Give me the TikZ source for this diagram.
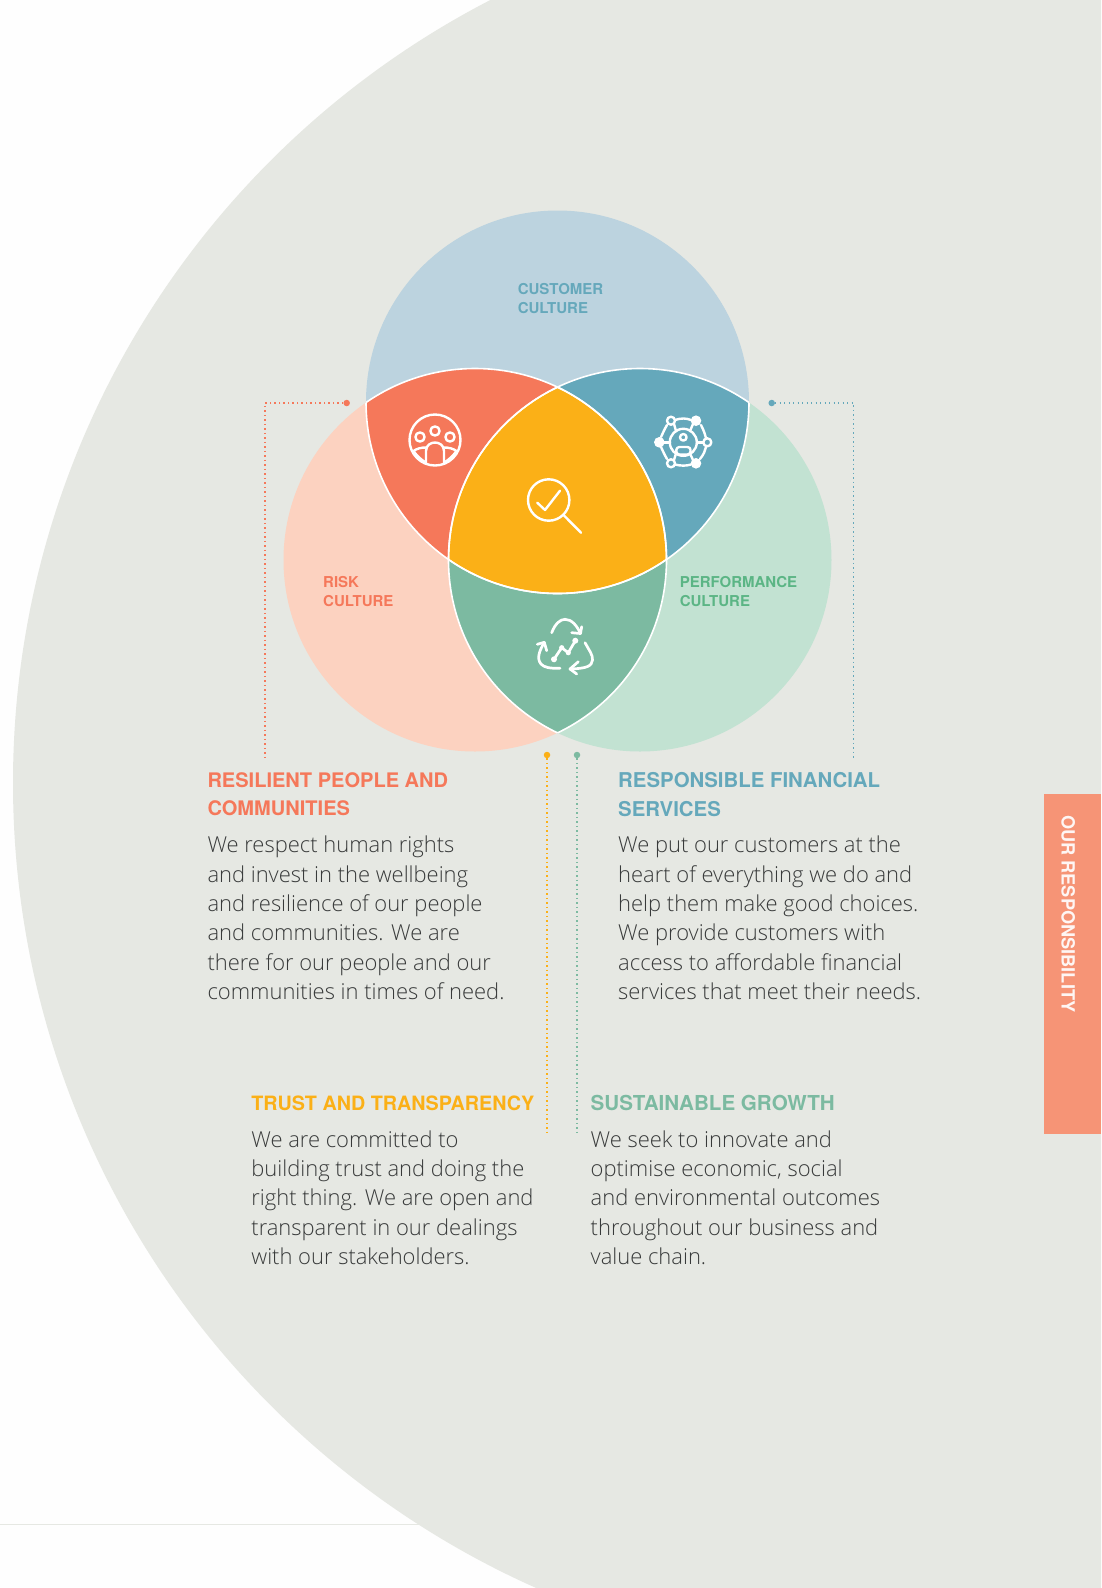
\documentclass[tikz,border=0pt]{standalone}
\usepackage{fontspec}
\setmainfont{Liberation Sans}
\newfontfamily\headfont{TeX Gyre Heros}[BoldFont=* Bold]
\newfontfamily\lightfont{Open Sans Light}
\definecolor{bgcol}{HTML}{E6E8E3}
\definecolor{pagecol}{HTML}{FEFEFE}
\definecolor{topcol}{HTML}{BCD3DF}
\definecolor{leftcol}{HTML}{FCD2C0}
\definecolor{rightcol}{HTML}{C2E2D2}
\definecolor{redc}{HTML}{F5785A}
\definecolor{bluec}{HTML}{65A8BB}
\definecolor{yellowc}{HTML}{FBB017}
\definecolor{greenc}{HTML}{7CBAA1}
\definecolor{perfc}{HTML}{5BB585}
\definecolor{tabc}{HTML}{F69476}
\definecolor{bodyc}{HTML}{383A3A}
\tikzset{
  x=1pt,y=-1pt,
  headtext/.style={anchor=north west,inner sep=0pt,align=left,font=\fontsize{#1}{28.2}\selectfont\headfont\bfseries},
  bodytext/.style={anchor=north west,inner sep=0pt,align=left,text=bodyc,font=\fontsize{21.95}{29.3}\selectfont\lightfont},
  circtext/.style={anchor=north west,inner sep=0pt,align=left,font=\fontsize{15}{18.8}\selectfont\headfont\bfseries},
  leader/.style={line width=1.2pt,dash pattern=on 1.3pt off 3.2pt},
  dotnode/.style={circle,inner sep=0pt,minimum size=6.5pt,fill=#1},
  icon/.style={draw=white,line width=2.4pt,line cap=round,line join=round},
  seam/.style={draw=white,line width=1.6pt},
}
\begin{document}
\begin{tikzpicture}
\useasboundingbox (0,0) rectangle (1101,1588);
\fill[pagecol] (0,0) rectangle (1101,1588);
\draw[bgcol,line width=1pt] (0,1524.5) -- (430,1524.5);
\begin{scope}
  \clip (0,0) rectangle (1101,1588);
  \fill[bgcol] (893.5,783) circle (880.5);
\end{scope}
% Venn
\coordinate (cT) at (557.5,402);
\coordinate (cL) at (475,560);
\coordinate (cR) at (640,560);
\def\rad{191.5}
\fill[topcol] (cT) circle (\rad);
\fill[leftcol] (cL) circle (\rad);
\fill[rightcol] (cR) circle (\rad);
\begin{scope}\clip (cT) circle (\rad); \fill[redc] (cL) circle (\rad); \fill[bluec] (cR) circle (\rad);\end{scope}
\begin{scope}\clip (cL) circle (\rad); \fill[greenc] (cR) circle (\rad);\end{scope}
\begin{scope}\clip (cT) circle (\rad); \clip (cL) circle (\rad); \fill[yellowc] (cR) circle (\rad);\end{scope}
\begin{scope}\clip (cL) circle (\rad); \draw[seam] (cT) circle (\rad); \draw[seam] (cR) circle (\rad);\end{scope}
\begin{scope}\clip (cR) circle (\rad); \draw[seam] (cT) circle (\rad); \draw[seam] (cL) circle (\rad);\end{scope}
\begin{scope}\clip (cT) circle (\rad); \draw[seam] (cL) circle (\rad); \draw[seam] (cR) circle (\rad);\end{scope}
% circle labels
\node[circtext,text=bluec] (custlab) at (517.6,283.5) {CUSTOMER\\CULTURE};
\node[circtext,text=redc] (risklab) at (323,576) {RISK\\CULTURE};
\node[circtext,text=perfc] (perflab) at (679.6,576) {PERFORMANCE\\CULTURE};
% people icon
\draw[icon] (435,440) circle (25.5);
\draw[icon] (435,431) circle (4.6);
\draw[icon] (420,437) circle (4.6);
\draw[icon] (450,437) circle (4.6);
\draw[icon] (426,463) -- (426,451) .. controls (426,445) and (431,442.5) .. (435,442.5) .. controls (439,442.5) and (444,445) .. (444,451) -- (444,463);
\draw[icon] (413.5,451) .. controls (417,448.5) and (421,447.5) .. (426,447.5);
\draw[icon] (456.5,451) .. controls (453,448.5) and (449,447.5) .. (444,447.5);
\draw[icon] (413.5,451) .. controls (417,456) and (421,459.5) .. (425,462);
\draw[icon] (456.5,451) .. controls (453,456) and (449,459.5) .. (445,462);
% lens icon
\draw[icon] (548.7,500) circle (20.7);
\draw[icon] (563.5,515) -- (581,532.7);
\draw[icon] (537.3,502.7) -- (545,510) -- (560,490.7);
% network icon
\begin{scope}[icon]
\draw (675,420) .. controls (681,418) and (686,418) .. (691,420);
\draw (701,425) .. controls (704,431) and (705,434) .. (706,438);
\draw (706,447) .. controls (705,451) and (704,454) .. (700,459);
\draw (691,464.5) .. controls (686,466) and (681,466) .. (675,464.5);
\draw (667,459) .. controls (664,454) and (663,451) .. (661,447);
\draw (661,437) .. controls (663,433) and (664,430) .. (667,425);
\draw (683.3,442.3) circle (13.5);
\draw (683.3,437.3) circle (3.3);
\draw[rounded corners=3pt] (676.3,447) rectangle (690.5,454.5);
\draw (674,424) -- (676,431);
\draw (693,424) -- (690,431);
\draw (663,442.3) -- (670,442.3);
\draw (703,442.3) -- (697,442.3);
\draw (674,460) -- (676,453.5);
\draw (693,460) -- (690,453.5);
\draw (671,420.7) circle (4);
\draw (707.3,442.3) circle (4);
\draw (671,463.3) circle (4);
\fill[white] (696,420.7) circle (5.3);
\fill[white] (696,463.3) circle (5.3);
\fill[white] (659.3,442.3) circle (5.3);
\end{scope}
% recycle icon
\begin{scope}[icon,line width=2.7pt]
\draw (551.7,632.7) .. controls (555,624) and (560,619.3) .. (565,619.3) .. controls (572,619.3) and (577,626) .. (580.5,633.5);
\draw (581.7,626.7) -- (580.5,633.5) -- (571.7,632.7);
\draw (585,642.7) .. controls (589,650) and (593,655) .. (592.5,660) .. controls (592,666) and (587,668.5) .. (570,669);
\draw (578.3,661.7) -- (570,669) -- (576.7,674);
\draw (560,668.3) .. controls (550,668.5) and (544,667.5) .. (541,664) .. controls (536,658) and (540,650) .. (544.3,642.3);
\draw (537.3,644.3) -- (544.3,642.3) -- (546.7,650.7);
\draw (554,659.3) -- (561.7,647.7) -- (568.3,652.7) -- (575.3,640.7);
\end{scope}
\fill[white] (554,659.3) circle (3) (561.7,647.7) circle (2.6) (568.3,652.7) circle (2.6) (575.3,640.7) circle (3);
% leaders
\node[dotnode=redc] (dotL) at (346.7,403) {};
\coordinate (cornL) at (265,403);
\coordinate (endL) at (265,758.5);
\draw[leader,redc] (dotL) -- (cornL) -- (endL);
\node[dotnode=bluec] (dotR) at (771.7,403) {};
\coordinate (cornR) at (853.7,403);
\coordinate (endR) at (853.7,758.5);
\draw[leader,bluec] (dotR) -- (cornR) -- (endR);
\node[dotnode=yellowc] (dotY) at (547,755) {};
\coordinate (endY) at (547,1134);
\draw[leader,yellowc] (dotY) -- (endY);
\node[dotnode=greenc] (dotG) at (577,755) {};
\coordinate (endG) at (577,1135);
\draw[leader,greenc] (dotG) -- (endG);
% text blocks
\node[headtext=20.05,text=redc] (resH) at (207.3,772.6) {RESILIENT PEOPLE AND\\COMMUNITIES};
\node[bodytext] (resB) at (207.3,836) {We respect human rights\\and invest in the wellbeing\\and resilience of our people\\and communities. We are\\there for our people and our\\communities in times of need.};
\node[headtext=20.4,text=bluec] (finH) at (618,772.6) {RESPONSIBLE FINANCIAL\\SERVICES};
\node[bodytext] (finB) at (618,836) {We put our customers at the\\heart of everything we do and\\help them make good choices.\\We provide customers with\\access to affordable financial\\services that meet their needs.};
\node[headtext=19.75,text=yellowc] (truH) at (251.2,1095.5) {TRUST AND TRANSPARENCY};
\node[headtext=20.6,text=greenc] (susH) at (590.5,1095.5) {SUSTAINABLE GROWTH};
\node[bodytext] (truB) at (251.2,1130.5) {We are committed to\\building trust and doing the\\right thing. We are open and\\transparent in our dealings\\with our stakeholders.};
\node[bodytext] (susB) at (590.5,1130.5) {We seek to innovate and\\optimise economic, social\\and environmental outcomes\\throughout our business and\\value chain.};
% side tab
\fill[tabc] (1044,794) rectangle (1101,1134);
\node[rotate=-90,anchor=west,inner sep=0pt,text=white!92!tabc,font=\fontsize{18.2}{20}\selectfont\headfont\bfseries] (tablab) at (1068.3,815) {OUR RESPONSIBILITY};
\end{tikzpicture}
\end{document}
